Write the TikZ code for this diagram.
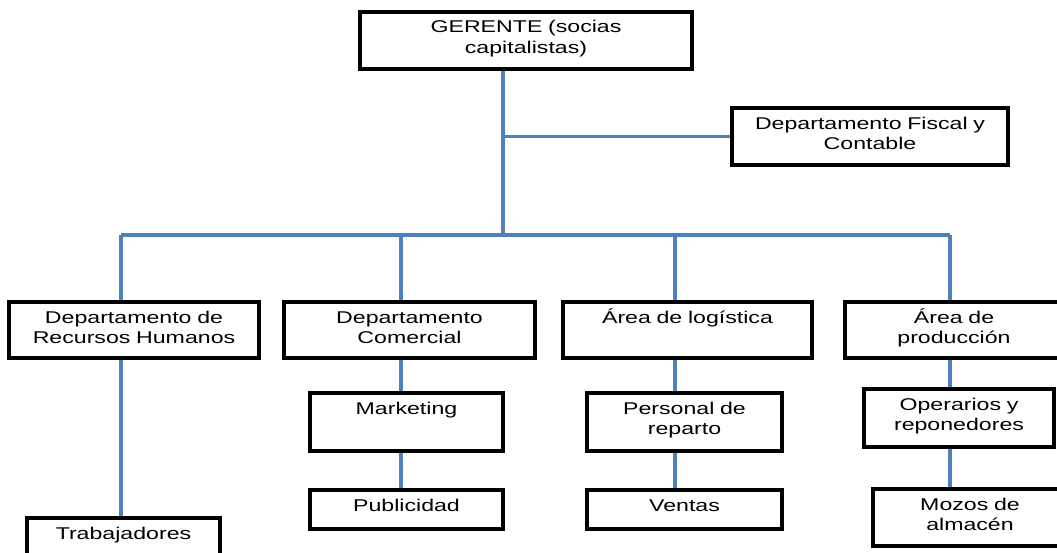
\documentclass[tikz,border=0pt]{standalone}
\usepackage{fontspec}
\setmainfont{Liberation Sans}[FakeStretch=1.36]
\usetikzlibrary{positioning}
\definecolor{orgblue}{RGB}{79,129,189}

\begin{document}
\begin{tikzpicture}[x=0.025cm, y=-0.025cm,
  unit/.style={draw, line width=2.6pt, inner sep=0pt, align=center,
    text height=0.525cm, font=\fontsize{12.1}{14.4}\selectfont},
  tall/.style={text depth=0.9cm},
  mid/.style={text depth=0.925cm},
  short/.style={text depth=0.45cm},
  link/.style={orgblue, line width=2.8pt}]
\useasboundingbox (0,0) rectangle (1057,552);
% Top: manager and fiscal office
\node[unit, tall, text width=8.3cm] (ger) at (526,40.5) {GERENTE (socias\\capitalistas)};
\node[unit, tall, text width=6.9cm] (fis) at (870,136.5) {Departamento Fiscal y\\Contable};
% Second level
\node[unit, text depth=0.875cm, text width=6.25cm] (rrhh) at (134,330) {Departamento de\\Recursos Humanos};
\node[unit, text depth=0.875cm, text width=6.275cm] (com) at (409.5,330) {Departamento\\Comercial};
\node[unit, text depth=0.875cm, text width=6.225cm] (log) at (687.5,330) {Área de logística};
\node[unit, text depth=0.875cm, text width=5.45cm] (prod) at (954,330) {Área de\\producción};
% Third level
\node[unit, tall, text width=4.825cm] (trab) at (123.5,546.5) {Trabajadores};
\node[unit, mid, text width=4.825cm] (mkt) at (406.5,422) {Marketing};
\node[unit, short, text width=4.825cm] (pub) at (406.5,509.5) {Publicidad};
\node[unit, mid, text width=4.875cm] (rep) at (684.5,422) {Personal de\\reparto};
\node[unit, short, text width=4.875cm] (ven) at (684.5,509.5) {Ventas};
\node[unit, mid, text width=4.75cm] (ope) at (959,418) {Operarios y\\reponedores};
\node[unit, tall, text width=4.85cm] (moz) at (970,517.5) {Mozos de\\almacén};
% Bus
\coordinate (hub) at (503,235);
\coordinate (b1) at (121,235);
\coordinate (b2) at (401,235);
\coordinate (b3) at (675,235);
\coordinate (b4) at (950,235);
\draw[link] (ger.south -| hub) -- (hub);
\draw[link] (fis.west -| hub) -- (fis.west);
\draw[link] (b1) -- (b4);
\draw[link] (b1) -- (b1 |- rrhh.north);
\draw[link] (b2) -- (b2 |- com.north);
\draw[link] (b3) -- (b3 |- log.north);
\draw[link] (b4) -- (b4 |- prod.north);
% Drops
\draw[link] (b1 |- rrhh.south) -- (b1 |- trab.north);
\draw[link] (b2 |- com.south) -- (b2 |- mkt.north);
\draw[link] (b2 |- mkt.south) -- (b2 |- pub.north);
\draw[link] (b3 |- log.south) -- (b3 |- rep.north);
\draw[link] (b3 |- rep.south) -- (b3 |- ven.north);
\draw[link] (b4 |- prod.south) -- (b4 |- ope.north);
\draw[link] (b4 |- ope.south) -- (b4 |- moz.north);
\end{tikzpicture}
\end{document}
